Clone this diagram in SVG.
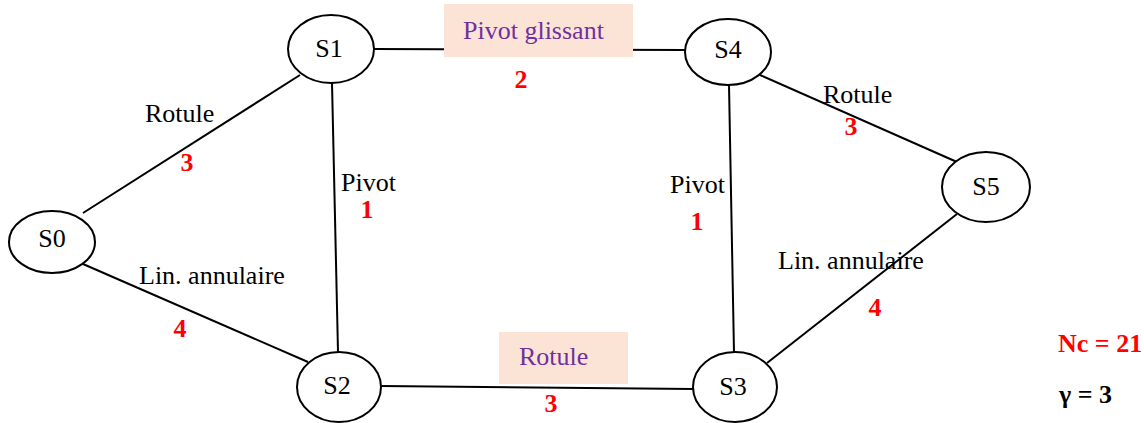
<svg xmlns="http://www.w3.org/2000/svg" width="1144" height="423" viewBox="0 0 1144 423">
<style>
.node ellipse{fill:#fff;stroke:#000;stroke-width:2}
.node text{font-family:"Liberation Serif",serif;font-size:26px;fill:#000;text-anchor:middle}
.conn line{stroke:#000;stroke-width:2}
.lbl{font-family:"Liberation Serif",serif;font-size:26px;fill:#000}
.num{font-family:"Liberation Serif",serif;font-size:26px;font-weight:bold;fill:#ff0000;text-anchor:middle}
.box{fill:#fbe4d6}
.plbl{font-family:"Liberation Serif",serif;font-size:26px;fill:#7030a0}
</style>
<g id="connectors" class="conn">
<line x1="83" y1="213" x2="300" y2="75"/>
<line x1="83" y1="264" x2="308" y2="362"/>
<line x1="332" y1="83" x2="338" y2="352"/>
<line x1="374" y1="49" x2="686" y2="50"/>
<line x1="729" y1="85" x2="734" y2="353"/>
<line x1="760" y1="75" x2="957" y2="162"/>
<line x1="957" y1="214" x2="767" y2="363"/>
<line x1="381" y1="386" x2="693" y2="389"/>
</g>
<g id="label-boxes">
<rect class="box" x="444" y="4" width="189" height="53"/>
<text class="plbl" x="463" y="39">Pivot glissant</text>
<rect class="box" x="499" y="332" width="129" height="52"/>
<text class="plbl" x="519" y="365">Rotule</text>
</g>
<g id="labels">
<text class="lbl" x="145" y="122">Rotule</text>
<text class="num" x="187" y="171">3</text>
<text class="lbl" x="341" y="191">Pivot</text>
<text class="num" x="367" y="218">1</text>
<text class="lbl" x="139" y="284">Lin. annulaire</text>
<text class="num" x="180" y="337">4</text>
<text class="num" x="521" y="88">2</text>
<text class="num" x="551" y="412">3</text>
<text class="lbl" x="670" y="193">Pivot</text>
<text class="num" x="697" y="230">1</text>
<text class="lbl" x="823" y="103">Rotule</text>
<text class="num" x="851" y="135">3</text>
<text class="lbl" x="778" y="269">Lin. annulaire</text>
<text class="num" x="875" y="316">4</text>
</g>
<g id="S0" class="node"><ellipse cx="52" cy="242" rx="43" ry="31"/><text x="52" y="247">S0</text></g>
<g id="S1" class="node"><ellipse cx="331" cy="49" rx="43" ry="34"/><text x="329" y="57">S1</text></g>
<g id="S4" class="node"><ellipse cx="728" cy="52" rx="43" ry="33"/><text x="728" y="58">S4</text></g>
<g id="S5" class="node"><ellipse cx="986" cy="187" rx="44" ry="35"/><text x="986" y="195">S5</text></g>
<g id="S2" class="node"><ellipse cx="339" cy="387" rx="42" ry="35"/><text x="337" y="394">S2</text></g>
<g id="S3" class="node"><ellipse cx="735" cy="387" rx="42" ry="35"/><text x="733" y="395">S3</text></g>
<g id="summary">
<text x="1058" y="352" style="font-family:'Liberation Serif',serif;font-size:26px;font-weight:bold;fill:#ff0000">Nc = 21</text>
<text x="1059" y="403" style="font-family:'Liberation Serif',serif;font-size:26px;font-weight:bold;fill:#000">γ = 3</text>
</g>
</svg>
